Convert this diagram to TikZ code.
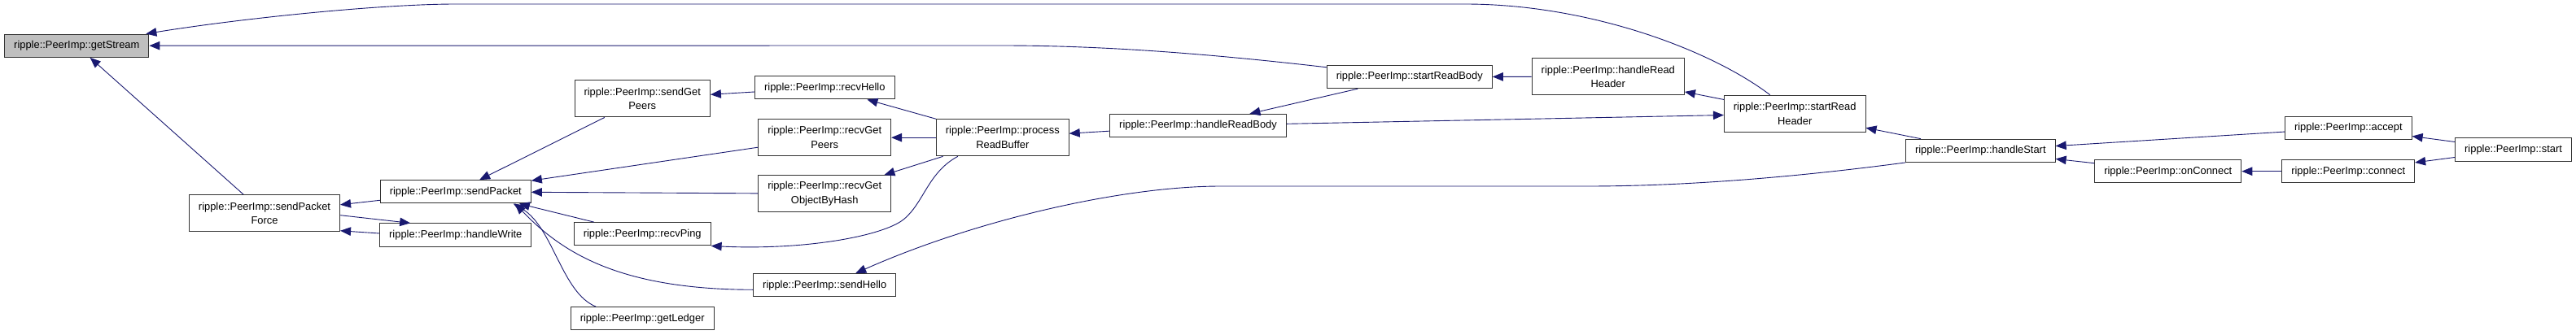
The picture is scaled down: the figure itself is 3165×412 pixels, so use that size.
\documentclass[tikz,border=0pt]{standalone}
\usepackage{fontspec}
\setmainfont{Liberation Sans}
\usetikzlibrary{arrows.meta}
\definecolor{edgeblue}{HTML}{191970}
\definecolor{boxgrey}{HTML}{BFBFBF}

\begin{document}
\begin{tikzpicture}[x=1pt, y=-1pt,
    box/.style={draw=black!80, line width=1pt, fill=white, minimum height=28.3pt, inner xsep=11.5pt, inner ysep=2pt, align=center, font=\fontsize{12.9}{17.7}\selectfont},
    two/.style={minimum height=45.3pt},
    arr/.style={-{Triangle[length=13pt, width=10.5pt]}, draw=edgeblue, line width=0.9pt}]
\path[use as bounding box, fill=white] (0,0) rectangle (3165,412);
\node[box, fill=boxgrey] (gs) at (94.3,56.2) {ripple::PeerImp::getStream};
\node[box, two] (pfo) at (325,262.3) {ripple::PeerImp::sendPacket\\Force};
\node[box] (sp) at (559.8,235.8) {ripple::PeerImp::sendPacket};
\node[box] (hw) at (559.8,289) {ripple::PeerImp::handleWrite};
\node[box, two] (sgp) at (789.2,121.3) {ripple::PeerImp::sendGet\\Peers};
\node[box] (rp) at (789.2,287.8) {ripple::PeerImp::recvPing};
\node[box] (gl) at (789.2,391.8) {ripple::PeerImp::getLedger};
\node[box] (rh) at (1013.3,107.8) {ripple::PeerImp::recvHello};
\node[box, two] (rgp) at (1013.2,169.2) {ripple::PeerImp::recvGet\\Peers};
\node[box, two] (rgo) at (1013.2,238.3) {ripple::PeerImp::recvGet\\ObjectByHash};
\node[box, two] (prb) at (1231.8,169.2) {ripple::PeerImp::process\\ReadBuffer};
\node[box] (sh) at (1013.2,350.7) {ripple::PeerImp::sendHello};
\node[box] (hrb) at (1472,154.5) {ripple::PeerImp::handleReadBody};
\node[box] (srb) at (1731.8,94.5) {ripple::PeerImp::startReadBody};
\node[box, two] (hrh) at (1975.8,94.3) {ripple::PeerImp::handleRead\\Header};
\node[box, two] (srh) at (2205.2,139.8) {ripple::PeerImp::startRead\\Header};
\node[box] (hst) at (2433.3,185.3) {ripple::PeerImp::handleStart};
\node[box] (onc) at (2663.8,210.7) {ripple::PeerImp::onConnect};
\node[box] (acc) at (2885.3,157.2) {ripple::PeerImp::accept};
\node[box] (con) at (2885.2,210.7) {ripple::PeerImp::connect};
\node[box] (st) at (3088,184) {ripple::PeerImp::start};
\draw[arr] (srh) .. controls (2100,60) and (1950,5) .. (1800,5) -- (560,5) .. controls (470,5) and (300,22) .. ([xshift=-4pt]gs.north east);
\draw[arr] (srb) .. controls (1450,62) and (1330,56) .. (1230,56) -- (gs);
\draw[arr] (pfo) -- (gs);
\draw[arr] (sp) -- (pfo);
\draw[arr] ([yshift=-2.4pt]pfo.east) -- ([xshift=38pt]hw.north west);
\draw[arr] ([yshift=2pt]hw.west) -- ([yshift=1.7pt]pfo.south east);
\draw[arr] (sgp) -- (sp);
\draw[arr] (rgp) -- (sp);
\draw[arr] (rgo) -- (sp);
\draw[arr] (rp) -- ([xshift=-15pt]sp.south east);
\draw[arr] ([yshift=-5.6pt]sh.west) .. controls (760,356) and (690,310) .. ([xshift=-20pt]sp.south east);
\draw[arr] ([xshift=-57pt]gl.north) .. controls (690,360) and (680,280) .. ([xshift=-22pt]sp.south east);
\draw[arr] (rh) -- (sgp);
\draw[arr] (prb) -- (rh);
\draw[arr] (prb) -- (rgp);
\draw[arr] (prb) -- (rgo);
\draw[arr] ([xshift=-55pt]prb.south) .. controls (1140,212) and (1135,250) .. (1110,270) .. controls (1085,290) and (990,308) .. (rp.south east);
\draw[arr] (hrb) -- (prb);
\draw[arr] (srb) -- (hrb);
\draw[arr] (hrh) -- (srb);
\draw[arr] (hrb) -- (srh);
\draw[arr] (srh) -- (hrh);
\draw[arr] (hst) -- (srh);
\draw[arr] (hst.south west) .. controls (2250,212) and (2100,229) .. (1950,229) -- (1500,229) .. controls (1380,229) and (1200,270) .. ([xshift=38pt]sh.north);
\draw[arr] (acc) -- (hst);
\draw[arr] (onc) -- (hst);
\draw[arr] (con) -- (onc);
\draw[arr] (st) -- (acc);
\draw[arr] (st) -- (con);
\end{tikzpicture}
\end{document}
